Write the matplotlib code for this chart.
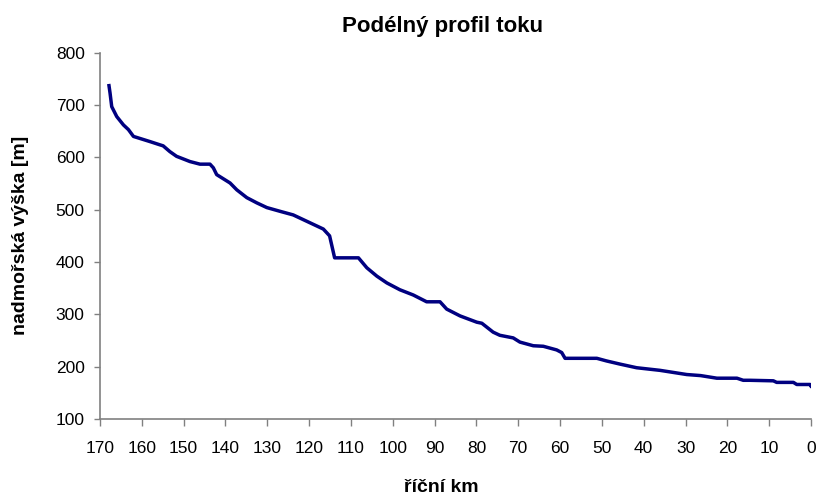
import matplotlib.pyplot as plt

plt.rcParams['font.family'] = ['Liberation Sans', 'DejaVu Sans']

# river km (from source) and elevation [m]
km = [167.85, 167.6, 167.2, 166.0, 164.4, 163.2, 162.0, 160.4, 158.0, 155.7,
      154.9, 153.3, 151.7, 148.5, 146.1, 143.7, 142.9, 142.1, 138.9, 137.3,
      134.9, 132.5, 130.1, 127.0, 123.8, 121.4, 119.0, 116.6, 115.1, 113.9,
      108.2, 106.2, 103.8, 101.4, 98.3, 95.1, 91.9, 88.7, 87.1, 83.9,
      79.9, 78.7, 76.0, 74.4, 71.2, 69.6, 66.4, 64.0, 60.8, 59.6,
      58.8, 51.2, 48.9, 45.7, 41.7, 36.1, 29.7, 26.4, 22.5, 17.7,
      16.2, 14.6, 9.0, 8.2, 4.2, 3.4, 0.2, 0.0]
elev = [737, 723, 697, 678, 662, 653, 640, 636, 630, 624,
        622, 611, 602, 592, 587, 587, 580, 567, 551, 538,
        523, 513, 504, 497, 490, 481, 472, 463, 450, 408,
        408, 389, 373, 360, 347, 337, 324, 324, 310, 297,
        285, 283, 266, 260, 255, 247, 240, 239, 232, 227,
        216, 216, 211, 205, 198, 193, 185, 183, 178, 178,
        174, 174, 173, 170, 170, 166, 166, 163]

xticks = list(range(170, -1, -10))
yticks = list(range(100, 801, 100))

fig = plt.figure(figsize=(8.19, 4.98), dpi=100)
ax = fig.add_axes([0.1221, 0.1586, 0.8681, 0.7356])
ax.plot(km, elev, color='#000080', lw=2.5, solid_joinstyle='round')

ax.set_xlim(170, 0)
ax.set_ylim(100, 800)
ax.set_xticks(xticks)
ax.set_yticks(yticks)
ax.tick_params(labelsize=12.5, color='#808080', width=1)
ax.tick_params(axis='x', length=5, pad=11)
ax.tick_params(axis='y', length=4, pad=7)
for s in ['top', 'right']:
    ax.spines[s].set_visible(False)
for s in ['left', 'bottom']:
    ax.spines[s].set_color('#808080')
    ax.spines[s].set_linewidth(1.2)

ax.set_title('Podélný profil toku', fontsize=16, fontweight='bold', pad=15, x=0.482)
ax.set_xlabel('říční km', fontsize=14, fontweight='bold')
ax.xaxis.set_label_coords(0.48, -0.163)
ax.set_ylabel('nadmořská výška [m]', fontsize=14, fontweight='bold')
ax.yaxis.set_label_coords(-0.1, 0.5)

fig.savefig('out.png', dpi=100)
